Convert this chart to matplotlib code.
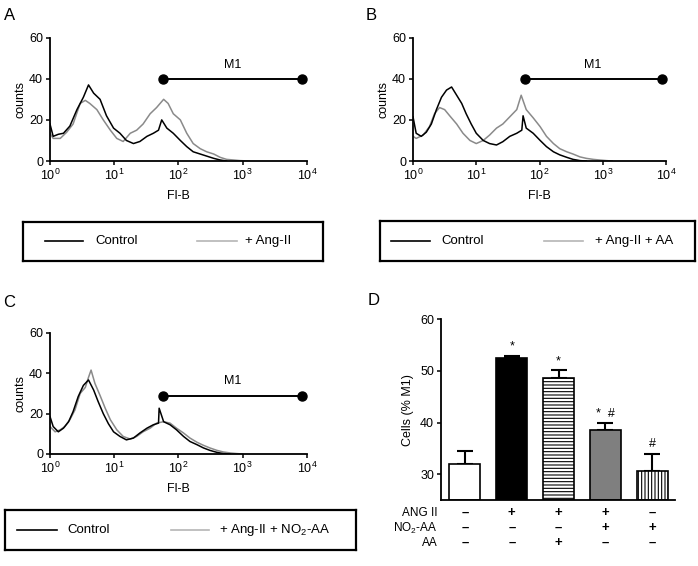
import matplotlib
matplotlib.use('Agg')
import matplotlib.pyplot as plt
import matplotlib.transforms as mtransforms
import numpy as np

plt.rcParams['font.family'] = ['Liberation Sans', 'DejaVu Sans']
plt.rcParams['mathtext.fontset'] = 'custom'
plt.rcParams['mathtext.rm'] = 'Liberation Sans'
plt.rcParams['mathtext.it'] = 'Liberation Sans:italic'
plt.rcParams['hatch.linewidth'] = 0.8

# --- histogram traces (x as log10 of Fl-B, y as counts) ---
a_ctrl_log = [0.00, 0.05, 0.13, 0.21, 0.31, 0.42, 0.52, 0.60, 0.68, 0.78, 0.88, 0.99, 1.09, 1.19,
              1.30, 1.40, 1.51, 1.61, 1.69, 1.74, 1.82, 1.92, 2.03, 2.13, 2.23, 2.34, 2.44, 2.55,
              2.65, 2.75]
a_ctrl_cnt = [18, 12, 13, 13.5, 17, 25, 31, 37, 33, 30, 22, 16, 13.5, 10,
              8.5, 9.5, 12, 13.5, 15, 20, 16, 13.5, 10, 7, 4.5, 3.4, 2.4, 1.3,
              0.5, 0]
a_trt_log = [0.00, 0.05, 0.16, 0.26, 0.36, 0.47, 0.55, 0.62, 0.73, 0.83, 0.94, 1.04, 1.14, 1.25,
             1.35, 1.45, 1.56, 1.66, 1.77, 1.84, 1.92, 2.03, 2.13, 2.23, 2.34, 2.44, 2.55, 2.65,
             2.75, 2.86, 2.96, 3.10]
a_trt_cnt = [13.5, 11, 11, 14, 18, 28, 29.5, 28, 25, 20, 15, 11, 9.5, 13.5,
             15, 18, 23, 26, 30, 28, 23, 20, 13.5, 8.5, 6, 4.5, 3.4, 1.8,
             0.8, 0.5, 0.2, 0]

b_ctrl_log = [0.00, 0.05, 0.13, 0.21, 0.29, 0.37, 0.45, 0.53, 0.61, 0.69, 0.77, 0.84, 0.92, 1.00,
              1.11, 1.21, 1.32, 1.42, 1.53, 1.64, 1.72, 1.74, 1.79, 1.90, 2.01, 2.11, 2.22, 2.32,
              2.43, 2.53, 2.64, 2.74]
b_ctrl_cnt = [21.5, 13.5, 12, 14, 18, 25, 31, 34.5, 36, 32, 28, 23, 18, 13.5,
              10, 8.5, 7.8, 9.4, 12, 13.5, 15, 22, 16, 13.5, 10, 7, 4.5, 3,
              1.8, 0.8, 0.2, 0]
b_trt_log = [0.00, 0.05, 0.16, 0.26, 0.34, 0.42, 0.50, 0.58, 0.69, 0.79, 0.90, 1.00, 1.11, 1.21,
             1.32, 1.42, 1.53, 1.64, 1.71, 1.79, 1.90, 2.01, 2.11, 2.22, 2.32, 2.43, 2.53, 2.64,
             2.74, 2.85, 2.95, 3.06, 3.15]
b_trt_cnt = [12, 11, 12.6, 16.7, 23, 26, 25, 22, 18, 13.5, 10, 8.5, 10, 12.6,
             16, 18, 21.5, 25, 32, 25, 21, 16.7, 12, 8.5, 6, 4.5, 3.4, 2,
             1.3, 0.8, 0.5, 0.2, 0]

c_ctrl_log = [0.00, 0.05, 0.13, 0.21, 0.29, 0.36, 0.44, 0.52, 0.60, 0.68, 0.75, 0.83, 0.91, 0.99,
              1.09, 1.19, 1.30, 1.40, 1.51, 1.61, 1.69, 1.70, 1.77, 1.87, 1.97, 2.08, 2.18, 2.29,
              2.39, 2.49, 2.60, 2.70, 2.80]
c_ctrl_cnt = [18.6, 13.6, 11, 12.8, 16, 21, 28.5, 34, 36.7, 31.7, 26, 20, 15, 11,
              8.7, 7, 7.9, 10.4, 12.8, 14.5, 15.3, 22.7, 16, 14.5, 12, 8.7, 6.2, 4.6,
              3, 1.8, 0.8, 0.2, 0]
c_trt_log = [0.00, 0.08, 0.16, 0.23, 0.31, 0.39, 0.47, 0.55, 0.60, 0.64, 0.70, 0.78, 0.86, 0.94,
             1.04, 1.14, 1.25, 1.35, 1.45, 1.56, 1.66, 1.77, 1.87, 1.97, 2.08, 2.18, 2.29, 2.39,
             2.49, 2.60, 2.70, 2.81, 2.91, 3.00]
c_trt_cnt = [13.6, 11, 12, 13.6, 17, 21.9, 30, 33, 38, 41.6, 35, 29, 22.7, 17,
             12, 8.7, 7.4, 8.7, 11, 12.8, 15.3, 16, 15.3, 12.8, 10.4, 7.9, 5.8, 4.3,
             3, 1.8, 1, 0.5, 0.2, 0]

# M1 gate
m1_range = [58, 8500]
m1_level = [40, 40, 29]

# --- bar panel D ---
bar_means = [32.0, 52.4, 48.7, 38.5, 30.6]
bar_errs = [2.5, 0.5, 1.4, 1.4, 3.4]
bar_marks = ['', '*', '*', '*  #', '#']
row_labels = ['ANG II', 'NO$_2$-AA', 'AA']
row_signs = [['-', '+', '+', '+', '-'],
             ['-', '-', '-', '+', '+'],
             ['-', '-', '+', '-', '-']]

legend_labels = ['+ Ang-II', '+ Ang-II + AA', '+ Ang-II + NO$_2$-AA']

fig = plt.figure(figsize=(6.98, 5.66), dpi=100)

GRAY = '#8a8a8a'


def hist_panel(rect, ctrl_log, ctrl_cnt, trt_log, trt_cnt, level):
    ax = fig.add_axes(rect)
    ax.plot(10 ** np.array(trt_log), trt_cnt, color=GRAY, lw=1.1)
    ax.plot(10 ** np.array(ctrl_log), ctrl_cnt, color='black', lw=1.1)
    ax.plot(m1_range, [level, level], color='black', lw=1.4, marker='o', ms=6.5, clip_on=False)
    ax.text(np.sqrt(m1_range[0] * m1_range[1]), level + 4, 'M1', ha='center', va='bottom', fontsize=9)
    ax.set_xscale('log')
    ax.set_xlim(1, 1e4)
    ax.set_ylim(0, 60)
    ax.set_xticks([1, 10, 100, 1000, 10000])
    ax.minorticks_off()
    ax.set_yticks([0, 20, 40, 60])
    for s in ['top', 'right']:
        ax.spines[s].set_visible(False)
    for s in ['left', 'bottom']:
        ax.spines[s].set_linewidth(1.3)
    ax.tick_params(labelsize=9, width=1.1, length=3, pad=2)
    ax.set_ylabel('counts', fontsize=9, labelpad=2)
    ax.set_xlabel('Fl-B', fontsize=9, labelpad=5)
    return ax


def legend_box(rect, label, xs):
    lax = fig.add_axes(rect)
    lax.set_xlim(0, 1)
    lax.set_ylim(0, 1)
    lax.set_xticks([])
    lax.set_yticks([])
    for s in lax.spines.values():
        s.set_linewidth(1.6)
    lax.plot([xs[0], xs[1]], [0.5, 0.5], color='black', lw=1.2)
    lax.text(xs[2], 0.5, 'Control', va='center', fontsize=9.5)
    lax.plot([xs[3], xs[4]], [0.5, 0.5], color='#b5b5b5', lw=1.2)
    lax.text(xs[5], 0.5, label, va='center', fontsize=9.5)


hist_panel([0.0716, 0.7155, 0.368, 0.218], a_ctrl_log, a_ctrl_cnt, a_trt_log, a_trt_cnt, m1_level[0])
hist_panel([0.5917, 0.7155, 0.3625, 0.218], b_ctrl_log, b_ctrl_cnt, b_trt_log, b_trt_cnt, m1_level[1])
hist_panel([0.0716, 0.1979, 0.368, 0.2138], c_ctrl_log, c_ctrl_cnt, c_trt_log, c_trt_cnt, m1_level[2])

legend_box([0.033, 0.5389, 0.4298, 0.0689], legend_labels[0], [0.073, 0.2, 0.24, 0.58, 0.713, 0.74])
legend_box([0.5444, 0.5389, 0.4513, 0.0707], legend_labels[1], [0.035, 0.159, 0.194, 0.521, 0.644, 0.683])
legend_box([0.0072, 0.0283, 0.503, 0.0707], legend_labels[2], [0.034, 0.148, 0.179, 0.474, 0.582, 0.61])

# panel D
axd = fig.add_axes([0.6318, 0.1166, 0.335, 0.3195])
xpos = np.arange(len(bar_means))
faces = ['white', 'black', 'white', '#7f7f7f', 'white']
hatches = [None, None, '-----', None, '|||||']
for i in range(len(bar_means)):
    axd.bar(xpos[i], bar_means[i] - 25, bottom=25, width=0.66, color=faces[i],
            edgecolor='black', linewidth=1.2, hatch=hatches[i], zorder=2)
axd.errorbar(xpos, bar_means, yerr=[[0] * 5, bar_errs], fmt='none', ecolor='black',
             elinewidth=1.5, capsize=6, capthick=1.5, zorder=1)
for i, m in enumerate(bar_marks):
    if m:
        axd.text(xpos[i], bar_means[i] + bar_errs[i] + 0.6, m, ha='center', va='bottom', fontsize=9)
axd.set_xlim(-0.51, 4.48)
axd.set_ylim(25, 60)
axd.set_yticks([30, 40, 50, 60])
axd.set_xticks([])
for s in ['top', 'right']:
    axd.spines[s].set_visible(False)
for s in ['left', 'bottom']:
    axd.spines[s].set_linewidth(1.3)
axd.tick_params(labelsize=9, width=1.1, length=3, pad=2)
axd.set_ylabel('Cells (% M1)', fontsize=9, labelpad=4)

# treatment table under the bars
blend = mtransforms.blended_transform_factory(axd.transData, axd.transAxes)
row_y = [-0.072, -0.155, -0.238]
for r, lab in enumerate(row_labels):
    axd.text(-0.015, row_y[r], lab, transform=axd.transAxes, ha='right', va='center', fontsize=8.5)
    for i, sgn in enumerate(row_signs[r]):
        shown = '\u2013' if sgn == '-' else sgn
        axd.text(xpos[i], row_y[r], shown, transform=blend, ha='center', va='center',
                 fontsize=9.5, fontweight='bold')

# panel letters
fig.text(0.005, 0.985, 'A', fontsize=12, va='top')
fig.text(0.524, 0.985, 'B', fontsize=12, va='top')
fig.text(0.005, 0.479, 'C', fontsize=12, va='top')
fig.text(0.526, 0.482, 'D', fontsize=12, va='top')

fig.savefig('out.png', dpi=100)
